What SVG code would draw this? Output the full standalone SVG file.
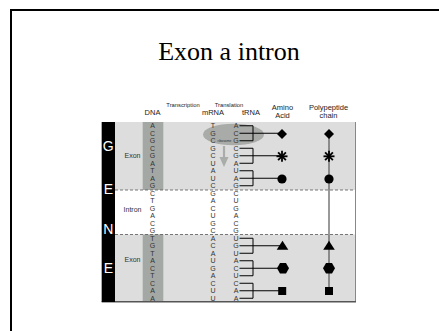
<svg xmlns="http://www.w3.org/2000/svg" xmlns:xlink="http://www.w3.org/1999/xlink" width="439" height="331" viewBox="0 0 439 331">
<style>
.seq{font-family:"Liberation Sans",Arial,sans-serif;font-size:7px;fill:#333;text-anchor:middle}
.hdr{font-family:"Liberation Sans",Arial,sans-serif;fill:#222;text-anchor:middle}
.gene{font-family:"Liberation Sans",Arial,sans-serif;font-size:14px;fill:#fff;text-anchor:middle}
.lbl{font-family:"Liberation Sans",Arial,sans-serif;font-size:7px;fill:#333;text-anchor:middle}
.br{stroke:#000;stroke-width:1;fill:none}
.dash{stroke:#555;stroke-width:0.8;stroke-dasharray:3,2}
.shape{fill:#000}
</style>
<defs>
<polygon id="diamond" points="0,-5 5,0 0,5 -5,0"/>
<g id="star" stroke="#000" stroke-width="1.8"><line x1="-5.5" y1="0" x2="5.5" y2="0"/><line x1="0" y1="-5.5" x2="0" y2="5.5"/><line x1="-3.9" y1="-3.9" x2="3.9" y2="3.9"/><line x1="-3.9" y1="3.9" x2="3.9" y2="-3.9"/></g>
<circle id="dot" r="4.6"/>
<polygon id="tri" points="0,-5 5.8,4 -5.8,4"/>
<polygon id="hex" points="-6,0 -3,-5.3 3,-5.3 6,0 3,5.3 -3,5.3"/>
<rect id="sq" x="-4" y="-4" width="8" height="8"/>
</defs>
<rect width="439" height="331" fill="#fff"/>
<g id="frame"><path d="M11,331 V10 H439" fill="none" stroke="#000" stroke-width="2"/></g>
<g id="title"><text x="229" y="60" font-family="'Liberation Serif','Times New Roman',serif" font-size="26" text-anchor="middle" fill="#000">Exon a intron</text></g>

<g id="regions">
<rect x="101.7" y="122" width="254" height="68" fill="#dcdddc"/>
<rect x="101.7" y="234.5" width="254" height="67.5" fill="#dcdddc"/>
<rect x="142.7" y="122" width="20.6" height="68" fill="#a4a8a4"/>
<rect x="142.7" y="234.5" width="20.6" height="67.5" fill="#a4a8a4"/>
<line class="dash" x1="115" y1="190" x2="356" y2="190"/>
<line class="dash" x1="115" y1="234.5" x2="356" y2="234.5"/>
<line x1="355.5" y1="122" x2="355.5" y2="302" stroke="#888" stroke-width="1"/>
<line x1="101.7" y1="301.8" x2="356" y2="301.8" stroke="#555" stroke-width="1.4"/>
</g>
<g id="gene-bar">
<rect x="101.7" y="122" width="13.3" height="180" fill="#000"/>
<text class="gene" x="108.3" y="151">G</text>
<text class="gene" x="108.3" y="194">E</text>
<text class="gene" x="108.3" y="234">N</text>
<text class="gene" x="108.3" y="273">E</text>
</g>
<g id="region-labels">
<text class="lbl" x="132.5" y="157.5">Exon</text>
<text class="lbl" x="132.5" y="211.5">Intron</text>
<text class="lbl" x="132.5" y="261.5">Exon</text>
</g>
<g id="headers">
<text class="hdr" font-size="7.5" x="152.5" y="115">DNA</text>
<text class="hdr" font-size="5.8" x="183" y="107">Transcription</text>
<text class="hdr" font-size="5.8" x="229" y="107">Translation</text>
<text class="hdr" font-size="7.5" x="213" y="115">mRNA</text>
<text class="hdr" font-size="7.5" x="251" y="115">tRNA</text>
<text class="hdr" font-size="7.5" x="282.5" y="110">Amino</text>
<text class="hdr" font-size="7.5" x="282.5" y="118">Acid</text>
<text class="hdr" font-size="7.5" x="328.5" y="110">Polypeptide</text>
<text class="hdr" font-size="7.5" x="328.5" y="118">chain</text>
</g>
<g id="ribosome">
<ellipse cx="233.5" cy="134.5" rx="30.5" ry="10.8" fill="#a9aba9"/>
<text x="224.5" y="142.3" font-family="'Liberation Sans',Arial,sans-serif" font-size="3.4" fill="#333" text-anchor="middle">ribosome</text>
<line x1="224" y1="146" x2="224" y2="158" stroke="#a9aca9" stroke-width="2.2"/>
<polygon points="219.5,157 228.5,157 224,167" fill="#a9aca9"/>
</g>
<g id="dna-seq"><text class="seq"><tspan x="152.5" y="128.15">A</tspan><tspan x="152.5" y="135.65">C</tspan><tspan x="152.5" y="143.15">G</tspan><tspan x="152.5" y="150.65">C</tspan><tspan x="152.5" y="158.15">G</tspan><tspan x="152.5" y="165.65">A</tspan><tspan x="152.5" y="173.15">T</tspan><tspan x="152.5" y="180.65">A</tspan><tspan x="152.5" y="188.15">G</tspan><tspan x="152.5" y="195.65">C</tspan><tspan x="152.5" y="203.15">T</tspan><tspan x="152.5" y="210.65">G</tspan><tspan x="152.5" y="218.15">A</tspan><tspan x="152.5" y="225.65">C</tspan><tspan x="152.5" y="233.15">G</tspan><tspan x="152.5" y="240.65">T</tspan><tspan x="152.5" y="248.15">G</tspan><tspan x="152.5" y="255.65">T</tspan><tspan x="152.5" y="263.15">A</tspan><tspan x="152.5" y="270.65">C</tspan><tspan x="152.5" y="278.15">T</tspan><tspan x="152.5" y="285.65">C</tspan><tspan x="152.5" y="293.15">A</tspan><tspan x="152.5" y="300.65">A</tspan></text></g>
<g id="mrna-seq"><text class="seq"><tspan x="213" y="128.15">T</tspan><tspan x="213" y="135.65">G</tspan><tspan x="213" y="143.15">C</tspan><tspan x="213" y="150.65">G</tspan><tspan x="213" y="158.15">C</tspan><tspan x="213" y="165.65">U</tspan><tspan x="213" y="173.15">A</tspan><tspan x="213" y="180.65">U</tspan><tspan x="213" y="188.15">C</tspan><tspan x="213" y="195.65">G</tspan><tspan x="213" y="203.15">A</tspan><tspan x="213" y="210.65">C</tspan><tspan x="213" y="218.15">U</tspan><tspan x="213" y="225.65">G</tspan><tspan x="213" y="233.15">C</tspan><tspan x="213" y="240.65">A</tspan><tspan x="213" y="248.15">C</tspan><tspan x="213" y="255.65">A</tspan><tspan x="213" y="263.15">U</tspan><tspan x="213" y="270.65">G</tspan><tspan x="213" y="278.15">A</tspan><tspan x="213" y="285.65">C</tspan><tspan x="213" y="293.15">U</tspan><tspan x="213" y="300.65">U</tspan></text></g>
<g id="trna-seq"><text class="seq"><tspan x="236" y="128.15">A</tspan><tspan x="236" y="135.65">C</tspan><tspan x="236" y="143.15">G</tspan><tspan x="236" y="150.65">C</tspan><tspan x="236" y="158.15">G</tspan><tspan x="236" y="165.65">A</tspan><tspan x="236" y="173.15">U</tspan><tspan x="236" y="180.65">A</tspan><tspan x="236" y="188.15">G</tspan><tspan x="236" y="195.65">C</tspan><tspan x="236" y="203.15">U</tspan><tspan x="236" y="210.65">G</tspan><tspan x="236" y="218.15">A</tspan><tspan x="236" y="225.65">C</tspan><tspan x="236" y="233.15">G</tspan><tspan x="236" y="240.65">U</tspan><tspan x="236" y="248.15">G</tspan><tspan x="236" y="255.65">U</tspan><tspan x="236" y="263.15">A</tspan><tspan x="236" y="270.65">C</tspan><tspan x="236" y="278.15">U</tspan><tspan x="236" y="285.65">C</tspan><tspan x="236" y="293.15">A</tspan><tspan x="236" y="300.65">A</tspan></text></g>
<g id="connectors">
<path class="br" d="M239.5,125.75 H253 V140.75 H239.5 M239.5,133.25 H282"/>
<path class="br" d="M239.5,148.25 H253 V163.25 H239.5 M239.5,155.75 H282"/>
<path class="br" d="M239.5,170.75 H253 V185.75 H239.5 M239.5,178.25 H282"/>
<path class="br" d="M239.5,238.25 H253 V253.25 H239.5 M239.5,245.75 H282"/>
<path class="br" d="M239.5,260.75 H253 V275.75 H239.5 M239.5,268.25 H282"/>
<path class="br" d="M239.5,283.25 H253 V298.25 H239.5 M239.5,290.75 H282"/>
<line x1="329" y1="134" x2="329" y2="291" stroke="#555" stroke-width="1.2"/>
</g>
<g id="amino-acids" class="shape">
<use xlink:href="#diamond" x="282" y="134"/>
<use xlink:href="#star" x="282" y="156.3"/>
<use xlink:href="#dot" x="282" y="179"/>
<use xlink:href="#tri" x="282.5" y="245.7"/>
<use xlink:href="#hex" x="283" y="268.3"/>
<use xlink:href="#sq" x="282.2" y="291"/>
</g>
<g id="polypeptide" class="shape">
<use xlink:href="#diamond" x="329" y="134"/>
<use xlink:href="#star" x="329" y="156.3"/>
<use xlink:href="#dot" x="329" y="179"/>
<use xlink:href="#tri" x="329" y="245.7"/>
<use xlink:href="#hex" x="329" y="268.3"/>
<use xlink:href="#sq" x="329" y="291"/>
</g>
</svg>
